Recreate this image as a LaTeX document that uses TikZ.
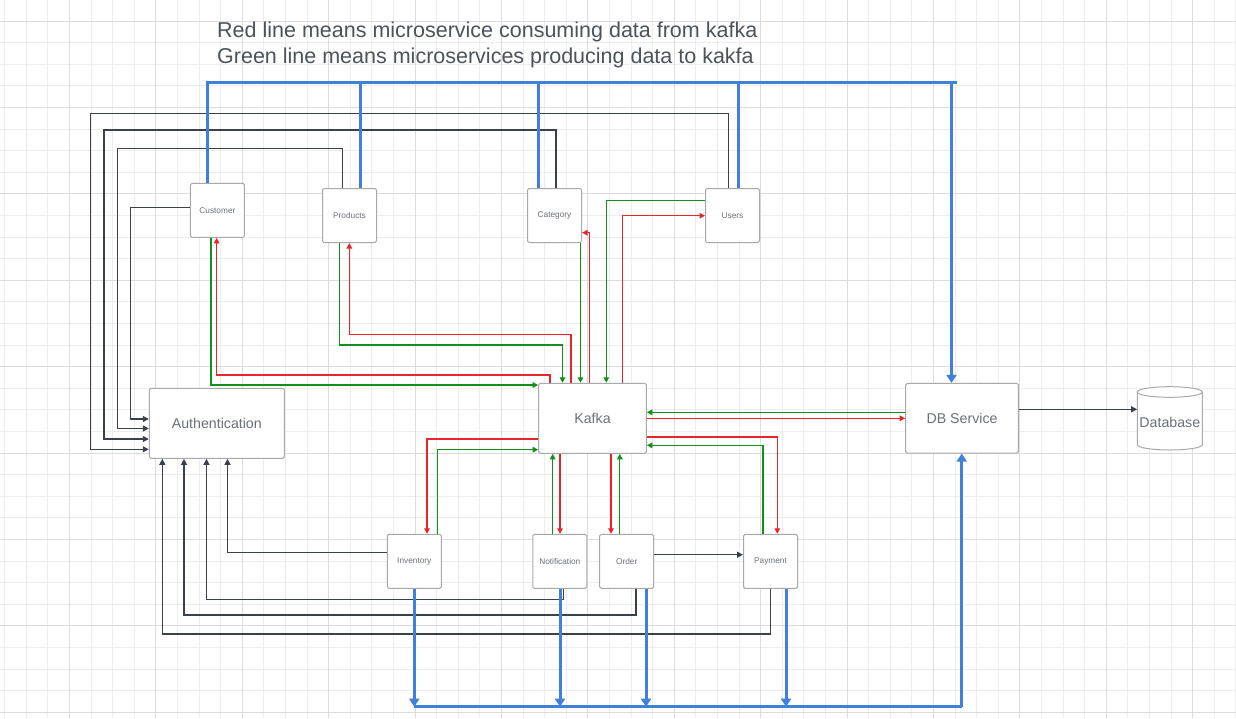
\documentclass[tikz,border=0pt]{standalone}
\usepackage{fontspec}
\setmainfont{Liberation Sans}
\usetikzlibrary{arrows.meta}
\definecolor{linered}{HTML}{E8262A}
\definecolor{linegreen}{HTML}{14901A}
\definecolor{linedark}{HTML}{3A414A}
\definecolor{lineblue}{HTML}{4080DA}
\definecolor{boxgray}{HTML}{A8A8A8}
\definecolor{txtgray}{HTML}{6B7079}
\definecolor{titlegray}{HTML}{4D535C}
\definecolor{gridminor}{HTML}{EDEDED}
\definecolor{gridmajor}{HTML}{DCDCDC}
\begin{document}
\begin{tikzpicture}[x=1pt,y=-1pt,
  box/.style={draw=boxgray, fill=white, rounded corners=1.5pt, line width=1pt,
    text=txtgray, inner sep=0pt, font=\fontsize{14.2}{17}\selectfont},
  sbox/.style={box, minimum width=54pt, minimum height=54pt, font=\fontsize{8.3}{10}\selectfont},
  consline/.style={draw=linered, line width=1.3pt, -{Triangle[length=5.5pt,width=5.5pt]}},
  prodline/.style={draw=linegreen, line width=1.3pt, -{Triangle[length=5.5pt,width=5.5pt]}},
  authline/.style={draw=linedark, line width=1.2pt, -{Triangle[length=6pt,width=6pt]}},
  dbline/.style={draw=lineblue, line width=3pt},
  dbarrow/.style={dbline, -{Triangle[length=8pt,width=10pt]}},
  titletext/.style={text=titlegray, inner sep=0pt, anchor=base west, font=\fontsize{21.5}{26}\selectfont}
]
\useasboundingbox (0,0) rectangle (1236,718);
\fill[white] (0,0) rectangle (1236,718);
% grid
\foreach \i in {0,...,57} \draw[gridminor, line width=0.8pt] ({4.5+21.6*\i},0) -- ({4.5+21.6*\i},718);
\foreach \i in {0,...,32} \draw[gridminor, line width=0.8pt] (0,{20.9+21.6*\i}) -- (1236,{20.9+21.6*\i});
\foreach \i in {0,...,13} \draw[gridmajor, line width=0.8pt] ({69.3+86.4*\i},0) -- ({69.3+86.4*\i},718);
\foreach \i in {0,...,8} \draw[gridmajor, line width=0.8pt] (0,{20.9+86.4*\i}) -- (1236,{20.9+86.4*\i});

% title
\node[titletext] (title1) at (217,37) {Red line means microservice consuming data from kafka};
\node[titletext] (title2) at (217,63) {Green line means microservices producing data to kakfa};

% nodes
\node[sbox] (cust) at (217.4,210.3) {Customer};
\node[sbox] (prod) at (349.5,215.5) {Products};
\node[sbox] (cat) at (554.5,215.5) {Category};
\node[sbox] (users) at (732.5,215.5) {Users};
\node[box, minimum width=135pt, minimum height=70pt] (auth) at (216.8,423.3) {Authentication};
\node[box, minimum width=107.6pt, minimum height=70pt] (kafka) at (592.5,418.3) {Kafka};
\node[sbox] (inv) at (414.3,561.3) {Inventory};
\node[sbox] (notif) at (559.8,561.3) {Notification};
\node[sbox] (order) at (626.7,561.3) {Order};
\node[sbox] (pay) at (770.5,561.3) {Payment};
\node[box, minimum width=112.6pt, minimum height=69.7pt] (dbs) at (962,418.2) {DB Service};

% database cylinder
\filldraw[fill=white, draw=boxgray, line width=1pt] (1137.3,392) -- (1137.3,444.7)
  arc[start angle=180, end angle=0, x radius=32.5, y radius=5.3] -- (1202.3,392);
\filldraw[fill=white, draw=boxgray, line width=1pt] (1169.8,392) ellipse [x radius=32.5, y radius=5.3];
\node[inner sep=0pt, minimum width=65pt, minimum height=63.3pt, text=txtgray,
  font=\fontsize{14.2}{17}\selectfont] (db) at (1169.8,418.3) {\raisebox{-3.8pt}[\height][\depth]{Database}};

% dark lines into Authentication
\draw[authline] (users.north -| 728.3,0) |- (90.7,113.3) |- (auth.west |- 0,449.3);
\draw[authline] (cat.north -| 556,0) |- (104,130) |- (auth.west |- 0,439);
\draw[authline] (prod.north -| 342.3,0) |- (117.3,148.3) |- (auth.west |- 0,428.5);
\draw[authline] (cust.west |- 0,207.3) -| (130.7,419) -- (auth.west |- 0,419);
\draw[authline] (inv.west |- 0,552.7) -| (auth.south -| 227.5,0);
\draw[authline] (notif.south -| 563.3,0) |- (206.5,599.3) -- (auth.south -| 206.5,0);
\draw[authline] (order.south -| 636,0) |- (184,615) -- (auth.south -| 184,0);
\draw[authline] (pay.south -| 770.3,0) |- (162.3,634) -- (auth.south -| 162.3,0);
\draw[authline] (order.east |- 0,554.7) -- (pay.west |- 0,554.7);
\draw[authline] (dbs.east |- 0,409.3) -- (db.west |- 0,409.3);

% red: consuming from kafka
\draw[consline] (kafka.north -| 550,0) |- (216.7,375) -- (cust.south -| 216.7,0);
\draw[consline] (kafka.north -| 571,0) |- (349.3,334.3) -- (prod.south -| 349.3,0);
\draw[consline] (kafka.north -| 589.5,0) |- (cat.east |- 0,232.7);
\draw[consline] (kafka.north -| 622.2,0) |- (users.west |- 0,215.7);
\draw[consline] (kafka.west |- 0,439) -| (inv.north -| 427,0);
\draw[consline] (kafka.south -| 560,0) -- (notif.north -| 560,0);
\draw[consline] (kafka.south -| 611,0) -- (order.north -| 611,0);
\draw[consline] (kafka.east |- 0,437) -| (pay.north -| 777.3,0);
\draw[consline] (kafka.east |- 0,418.3) -- (dbs.west |- 0,418.3);

% green: producing to kafka
\draw[prodline] (cust.south -| 211,0) |- (kafka.west |- 0,385);
\draw[prodline] (prod.south -| 339.7,0) |- (562.5,345) -- (kafka.north -| 562.5,0);
\draw[prodline] (cat.south -| 580.5,0) -- (kafka.north -| 580.5,0);
\draw[prodline] (users.west |- 0,200.3) -| (kafka.north -| 606.3,0);
\draw[prodline] (inv.north -| 437.7,0) |- (kafka.west |- 0,449.7);
\draw[prodline] (notif.north -| 552.7,0) -- (kafka.south -| 552.7,0);
\draw[prodline] (order.north -| 619.8,0) -- (kafka.south -| 619.8,0);
\draw[prodline] (pay.north -| 763,0) |- (kafka.east |- 0,445.3);
\draw[prodline] (dbs.west |- 0,412.3) -- (kafka.east |- 0,412.3);

% blue: to DB service
\coordinate (topleft) at (207.3,82.3);
\coordinate (topright) at (957,82.3);
\draw[dbline] (cust.north -| topleft) -- (topleft) -- (topright);
\draw[dbline] (prod.north -| 360.7,0) -- (360.7,82.3);
\draw[dbline] (cat.north -| 538.7,0) -- (538.7,82.3);
\draw[dbline] (users.north -| 738.3,0) -- (738.3,82.3);
\draw[dbarrow] (951.5,82.3) -- (dbs.north -| 951.5,0);
\coordinate (botleft) at (414.3,706.7);
\coordinate (botright) at (961.7,706.7);
\draw[dbarrow] (inv.south) -- (botleft);
\draw[dbarrow] (notif.south -| 560,0) -- (560,706.7);
\draw[dbarrow] (order.south -| 646,0) -- (646,706.7);
\draw[dbarrow] (pay.south -| 786,0) -- (786,706.7);
\draw[dbline] (botleft) -- (botright);
\draw[dbarrow] (botright) -- (dbs.south -| botright);
\end{tikzpicture}
\end{document}
